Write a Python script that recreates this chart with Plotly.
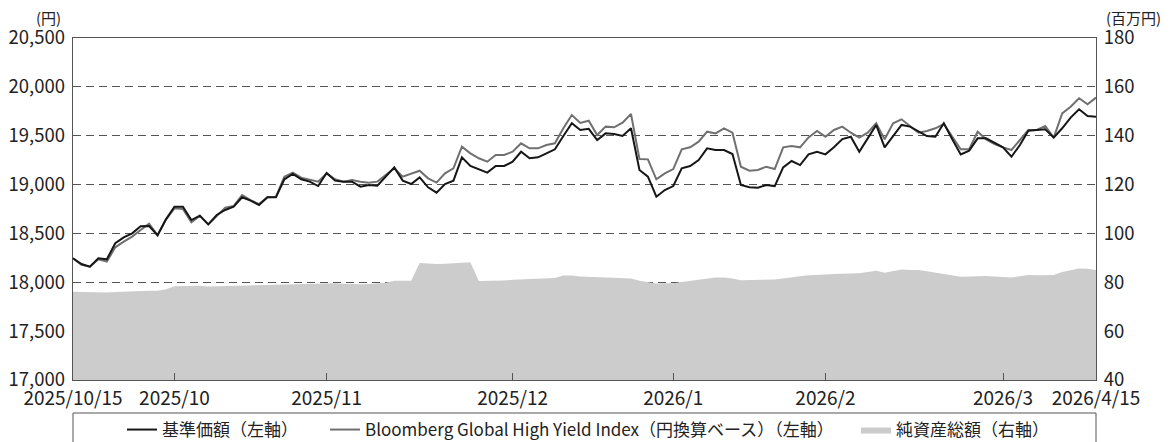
import plotly.graph_objects as go

# Weekly-ish business-day series, 2025/10/15 - 2026/4/15
nav = [18245, 18187, 18160, 18245, 18235, 18399, 18460, 18501, 18573, 18576,
       18481, 18644, 18774, 18774, 18637, 18682, 18593, 18689, 18740, 18774,
       18870, 18835, 18791, 18870, 18870, 19054, 19108, 19054, 19030, 18985,
       19118, 19040, 19030, 19030, 18979, 18996, 18989, 19088, 19176, 19040,
       19006, 19074, 18972, 18917, 19006, 19040, 19279, 19190, 19156, 19122,
       19190, 19190, 19234, 19336, 19269, 19279, 19320, 19361, 19497, 19627,
       19559, 19570, 19456, 19524, 19517, 19497, 19576, 19149, 19081, 18876,
       18944, 18985, 19166, 19190, 19251, 19371, 19354, 19354, 19313, 18996,
       18972, 18968, 18996, 18985, 19176, 19241, 19200, 19309, 19336, 19309,
       19381, 19465, 19490, 19336, 19473, 19610, 19381, 19497, 19610, 19593,
       19541, 19497, 19490, 19627, 19463, 19309, 19347, 19473, 19473, 19429,
       19381, 19285, 19405, 19552, 19559, 19566, 19480, 19576, 19685, 19770,
       19702, 19695]

index_jpy = [18245, 18180, 18160, 18235, 18211, 18358, 18416, 18467, 18535, 18600,
             18481, 18644, 18757, 18750, 18615, 18680, 18593, 18680, 18763, 18780,
             18893, 18840, 18800, 18870, 18875, 19081, 19122, 19070, 19050, 19030,
             19115, 19054, 19030, 19047, 19030, 19020, 19030, 19098, 19166, 19081,
             19115, 19142, 19064, 19020, 19115, 19166, 19388, 19320, 19269, 19234,
             19303, 19303, 19336, 19422, 19371, 19371, 19405, 19422, 19576, 19712,
             19630, 19654, 19507, 19593, 19586, 19634, 19722, 19262, 19258, 19054,
             19115, 19159, 19361, 19381, 19439, 19541, 19524, 19576, 19531, 19183,
             19142, 19149, 19183, 19159, 19381, 19395, 19381, 19483, 19548, 19490,
             19559, 19593, 19531, 19480, 19531, 19627, 19463, 19627, 19668, 19600,
             19531, 19548, 19576, 19620, 19490, 19361, 19361, 19541, 19463, 19415,
             19381, 19354, 19456, 19559, 19559, 19600, 19480, 19729, 19797, 19883,
             19821, 19890]

net_assets = [76.1, 76.0, 75.8, 75.7, 75.8, 76.0, 76.2, 76.3, 76.4, 76.5,
              76.5, 77.2, 78.4, 78.5, 78.3, 78.6, 78.3, 78.4, 78.5, 78.6,
              78.7, 78.8, 78.9, 79.0, 78.9, 79.1, 79.3, 79.4, 79.5, 79.6,
              79.7, 79.6, 79.4, 79.2, 79.2, 79.3, 79.5, 79.8, 80.6, 80.6,
              80.6, 87.9, 87.6, 87.5, 87.6, 87.8, 88.3, 88.2, 80.5, 80.5,
              80.6, 80.7, 81.0, 81.1, 81.4, 81.6, 81.6, 81.8, 82.8, 82.8,
              82.4, 82.3, 82.1, 82.0, 82.0, 81.8, 81.6, 80.6, 80.0, 79.5,
              79.6, 79.6, 80.1, 80.6, 81.0, 81.6, 82.0, 82.0, 81.6, 80.8,
              80.8, 80.8, 80.9, 81.1, 81.6, 82.2, 82.5, 82.9, 83.2, 83.2,
              83.4, 83.4, 83.5, 83.7, 84.2, 84.7, 83.9, 84.6, 85.2, 85.0,
              85.0, 84.5, 83.9, 83.3, 82.7, 82.3, 82.4, 82.6, 82.6, 82.4,
              82.3, 82.0, 82.5, 83.0, 82.9, 82.9, 83.0, 84.2, 85.0, 85.6,
              85.5, 85.0]

tick_positions = [0, 12, 30, 52, 71, 89, 110, 121]
tick_labels = ["2025/10/15", "2025/10", "2025/11", "2025/12",
               "2026/1", "2026/2", "2026/3", "2026/4/15"]

names = ["基準価額（左軸）",
         "Bloomberg Global High Yield Index（円換算ベース）（左軸）",
         "純資産総額（右軸）"]

x = list(range(len(nav)))
FONT = "Noto Sans CJK JP"
TXT = "#222222"
AX = "#555555"

# page layout (the html body adds an 8px margin)
OFF = 8
PL, PR, PT, PB = 73, 1096, 38, 380   # plot box in page pixels
W, H = 1175 - OFF, 442 - OFF
L, T = PL - OFF, PT - OFF
R, B = W - (PR - OFF), H - (PB - OFF)
PW, PH = PR - PL, PB - PT


def px_x(px):
    return (px - PL) / PW


def px_y(py):
    return (PB - py) / PH


fig = go.Figure()
fig.add_trace(go.Scatter(
    x=x, y=net_assets, yaxis="y", mode="lines", fill="tozeroy",
    line=dict(color="#cccccc", width=0), fillcolor="#cccccc",
    name=names[2], legend="legend3"))
fig.add_trace(go.Scatter(
    x=x, y=index_jpy, yaxis="y2", mode="lines",
    line=dict(color="#707070", width=2), name=names[1], legend="legend2"))
fig.add_trace(go.Scatter(
    x=x, y=nav, yaxis="y2", mode="lines",
    line=dict(color="#161616", width=2), name=names[0], legend="legend"))

leg_common = dict(orientation="h", yanchor="middle", xanchor="left",
                  bgcolor="rgba(0,0,0,0)", borderwidth=0,
                  font=dict(family=FONT, size=17, color=TXT))

fig.update_layout(
    width=W, height=H,
    margin=dict(l=L, r=R, t=T, b=B, autoexpand=False),
    paper_bgcolor="white", plot_bgcolor="white",
    font=dict(family=FONT, size=18, color=TXT),
    showlegend=True,
    legend=dict(x=px_x(122), y=px_y(430), **leg_common),
    legend2=dict(x=px_x(325), y=px_y(430), **leg_common),
    legend3=dict(x=px_x(856), y=px_y(430), **leg_common),
    xaxis=dict(range=[0, len(nav) - 1], tickvals=tick_positions, ticktext=tick_labels,
               ticks="inside", ticklen=7, tickcolor=AX, showgrid=False, zeroline=False,
               showline=True, linecolor=AX, linewidth=1, mirror=True,
               ticklabelstandoff=1, tickfont=dict(size=19, color=TXT)),
    yaxis=dict(side="right", range=[40, 180], dtick=20, tick0=40,
               showgrid=True, gridcolor=AX, gridwidth=1.3, griddash="8px,5px",
               zeroline=False, showline=True, linecolor=AX, linewidth=1, mirror=True,
               ticks="", ticklabelstandoff=3, tickfont=dict(size=18.5, color=TXT)),
    yaxis2=dict(side="left", overlaying="y", range=[17000, 20500], dtick=500,
                tickformat=",", showgrid=False, zeroline=False, showline=False,
                ticks="", ticklabelstandoff=7, tickfont=dict(size=18.5, color=TXT)),
    shapes=[dict(type="rect", xref="paper", yref="paper",
                 x0=0, x1=1, y0=px_y(413), y1=px_y(460),
                 line=dict(color=AX, width=1), fillcolor="rgba(0,0,0,0)")],
    annotations=[
        dict(text="(円)", xref="paper", yref="paper", x=px_x(48), y=px_y(17),
             xanchor="center", yanchor="middle", showarrow=False,
             font=dict(family=FONT, size=15, color=TXT)),
        dict(text="(百万円)", xref="paper", yref="paper", x=px_x(1133), y=px_y(17),
             xanchor="center", yanchor="middle", showarrow=False,
             font=dict(family=FONT, size=15, color=TXT)),
    ],
)

fig.write_html("out.html")
